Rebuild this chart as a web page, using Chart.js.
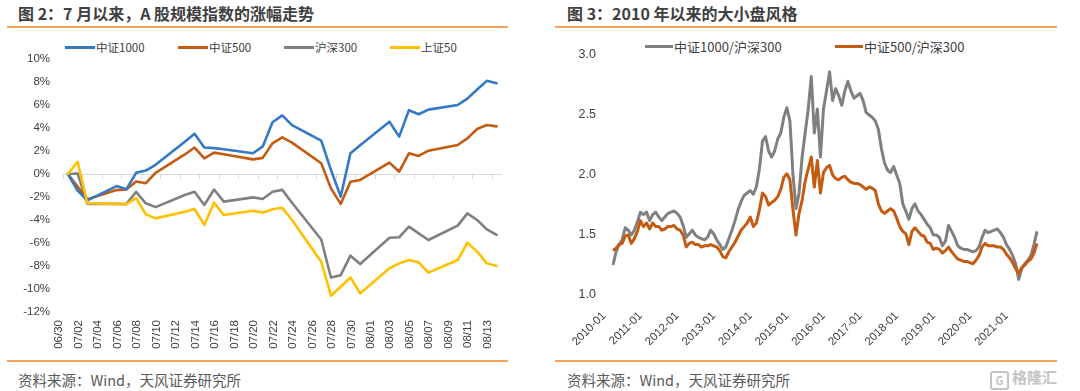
<!DOCTYPE html>
<html>
<head>
<meta charset="utf-8">
<script src="https://cdn.jsdelivr.net/npm/chart.js@4.4.0/dist/chart.umd.min.js"></script>
<style>
  body { margin: 0; background: #fff; }
  #page { position: relative; width: 1080px; height: 391px; overflow: hidden;
          font-family: "Noto Sans CJK SC", "Noto Sans", sans-serif; color: #404040; }
  .title { position: absolute; top: 5px; font-size: 16px; line-height: 16px; font-weight: bold; white-space: nowrap; }
  .rule { position: absolute; height: 1.5px; background: #F3A25A; }
  .source { position: absolute; top: 372px; font-size: 14.5px; line-height: 15px; color: #595959; white-space: nowrap; }
  .item { position: absolute; display: flex; align-items: center; white-space: nowrap; }
  .swatch { display: inline-block; width: 30px; height: 3px; margin-right: 1px; }
  canvas { position: absolute; }
  .mark { position: absolute; left: 990px; top: 367px; color: #c4c4c4; font-size: 15px; line-height: 20px; font-weight: bold; white-space: nowrap; }
  .mark span { display: inline-block; width: 15px; height: 15px; border: 2px solid #c4c4c4; border-radius: 3px;
               font-size: 11px; line-height: 15px; text-align: center; margin-right: 3px; vertical-align: -2px; }
</style>
</head>
<body>
<div id="page">
  <div class="title" style="left:18px">图 2：7 月以来，A 股规模指数的涨幅走势</div>
  <div class="rule" style="left:7px;width:501px;top:26px"></div>
  <div class="item" style="left:65px;top:41px;font-size:11.5px;line-height:12px"><i class="swatch" style="background:#3478C6"></i>中证1000</div>
  <div class="item" style="left:178px;top:41px;font-size:11.5px;line-height:12px"><i class="swatch" style="background:#C55A11"></i>中证500</div>
  <div class="item" style="left:284px;top:41px;font-size:11.5px;line-height:12px"><i class="swatch" style="background:#808080"></i>沪深300</div>
  <div class="item" style="left:390px;top:41px;font-size:11.5px;line-height:12px"><i class="swatch" style="background:#FFC000"></i>上证50</div>
  <canvas id="left" width="540" height="330" style="left:0;top:30px"></canvas>
  <div class="rule" style="left:7px;width:501px;top:360px"></div>
  <div class="source" style="left:18px">资料来源：Wind，天风证券研究所</div>

  <div class="title" style="left:567px">图 3：2010 年以来的大小盘风格</div>
  <div class="rule" style="left:555px;width:502px;top:26px"></div>
  <div class="item" style="left:645px;top:40px;font-size:13px;line-height:13px"><i class="swatch" style="background:#808080;width:28px"></i>中证1000/沪深300</div>
  <div class="item" style="left:835px;top:40px;font-size:13px;line-height:13px"><i class="swatch" style="background:#C55A11;width:28px"></i>中证500/沪深300</div>
  <canvas id="right" width="540" height="330" style="left:540px;top:30px"></canvas>
  <div class="rule" style="left:555px;width:502px;top:360px"></div>
  <div class="source" style="left:567px">资料来源：Wind，天风证券研究所</div>
  <div class="mark"><span>G</span>格隆汇</div>
</div>

<script>
// ---- 图2: 7月以来规模指数涨幅 (%) ----
const dates = ['06/30', '07/01', '07/02', '07/05', '07/06', '07/07', '07/08', '07/09',
  '07/12', '07/13', '07/14', '07/15', '07/16', '07/19', '07/20', '07/21', '07/22', '07/23',
  '07/26', '07/27', '07/28', '07/29', '07/30', '08/02', '08/03', '08/04', '08/05', '08/06',
  '08/09', '08/10', '08/11', '08/12', '08/13'];
const xTickLabels = ['06/30', '07/02', '07/04', '07/06', '07/08', '07/10', '07/12', '07/14',
  '07/16', '07/18', '07/20', '07/22', '07/24', '07/26', '07/28', '07/30', '08/01', '08/03',
  '08/05', '08/07', '08/09', '08/11', '08/13'];
const zz1000 = [0, -1.45, -2.3, -1.05, -1.33, 0.1, 0.3, 0.8, 2.8, 3.5, 2.3, 2.25, 2.15,
  1.8, 2.4, 4.5, 5.1, 4.25, 2.9, 0.35, -1.97, 1.8, 2.5, 4.55, 3.25, 5.55, 5.2, 5.6,
  6.0, 6.55, 7.35, 8.1, 7.9];
const zz500 = [0, -1.1, -2.2, -1.4, -1.35, -0.65, -0.8, 0.1, 1.7, 2.3, 1.36, 1.86, 1.72,
  1.27, 1.4, 2.67, 3.19, 2.73, 0.93, -1.25, -2.6, -0.67, -0.52, 0.99, 0.2, 1.8, 1.57, 2.03,
  2.52, 3.1, 3.91, 4.26, 4.14];
const hs300 = [0, 0.05, -2.6, -2.6, -2.62, -1.55, -2.55, -2.88, -1.83, -1.54, -2.7, -1.35, -2.4,
  -2.03, -2.17, -1.54, -1.38, -2.5, -5.7, -9.0, -8.8, -7.1, -7.83, -5.54, -5.5, -4.58, -5.16, -5.74,
  -4.49, -3.42, -4.0, -4.81, -5.3];
const sz50 = [0, 1.07, -2.55, -2.6, -2.62, -2.1, -3.5, -3.86, -3.28, -3.04, -4.43, -2.49, -3.57,
  -3.19, -3.36, -3.07, -2.93, -4.0, -7.62, -10.58, -9.8, -8.99, -10.38, -8.2, -7.77, -7.48, -7.68, -8.58,
  -7.48, -5.97, -6.75, -7.77, -8.0];

// ---- 图3: 2010年以来大小盘风格 (月度) ----
const yearLabels = ['2010-01', '2011-01', '2012-01', '2013-01', '2014-01', '2015-01',
  '2016-01', '2017-01', '2018-01', '2019-01', '2020-01', '2021-01'];
const ratio1000 = [
  1.25, 1.36, 1.42, 1.46, 1.56, 1.54, 1.50, 1.54, 1.61, 1.69, 1.67, 1.69,
  1.62, 1.67, 1.69, 1.65, 1.62, 1.65, 1.68, 1.69, 1.70, 1.68, 1.65, 1.58,
  1.48, 1.51, 1.54, 1.50, 1.48, 1.47, 1.46, 1.48, 1.54, 1.51, 1.46, 1.42,
  1.38, 1.40, 1.47, 1.54, 1.62, 1.71, 1.78, 1.83, 1.85, 1.87, 1.84, 1.90,
  2.05, 2.28, 2.32, 2.20, 2.15, 2.20, 2.30, 2.35, 2.48, 2.56, 2.45, 2.00,
  1.72, 1.85, 2.15, 2.35, 2.55, 2.82, 2.35, 2.55, 2.15, 2.55, 2.70, 2.86,
  2.62, 2.72, 2.66, 2.58, 2.70, 2.78, 2.70, 2.64, 2.66, 2.68, 2.62, 2.52,
  2.50, 2.48, 2.45, 2.38, 2.22, 2.10, 2.04, 2.02, 2.07, 2.00, 1.93, 1.76,
  1.70, 1.63, 1.72, 1.76, 1.70, 1.67, 1.63, 1.59, 1.56, 1.50, 1.50, 1.48,
  1.41, 1.45, 1.58, 1.53, 1.48, 1.41, 1.39, 1.38, 1.38, 1.37, 1.36, 1.37,
  1.40, 1.48, 1.54, 1.52, 1.53, 1.54, 1.55, 1.52, 1.48, 1.42, 1.38, 1.33,
  1.26, 1.13, 1.22, 1.26, 1.29, 1.33, 1.42, 1.53];
const ratio500 = [
  1.37, 1.39, 1.42, 1.43, 1.49, 1.50, 1.43, 1.47, 1.53, 1.62, 1.57, 1.60,
  1.55, 1.60, 1.57, 1.57, 1.54, 1.55, 1.57, 1.57, 1.58, 1.55, 1.54, 1.50,
  1.40, 1.43, 1.44, 1.42, 1.42, 1.40, 1.41, 1.41, 1.42, 1.41, 1.40, 1.37,
  1.32, 1.31, 1.36, 1.40, 1.44, 1.49, 1.54, 1.57, 1.60, 1.65, 1.57, 1.60,
  1.71, 1.85, 1.82, 1.75, 1.77, 1.79, 1.82, 1.88, 1.98, 2.01, 1.96, 1.71,
  1.50, 1.68, 1.79, 1.95, 2.05, 2.15, 1.90, 2.12, 1.85, 2.02, 2.06, 2.08,
  2.00, 1.97, 1.96, 1.98, 1.99, 1.96, 1.94, 1.93, 1.93, 1.92, 1.90, 1.88,
  1.90, 1.89, 1.87, 1.76, 1.70, 1.68, 1.70, 1.72, 1.70, 1.64, 1.57, 1.53,
  1.51, 1.42, 1.53, 1.56, 1.53, 1.50, 1.49, 1.44, 1.43, 1.38, 1.39, 1.38,
  1.35, 1.37, 1.40, 1.36, 1.33, 1.30, 1.29, 1.28, 1.28, 1.27, 1.26, 1.29,
  1.33, 1.40, 1.43, 1.41, 1.41, 1.41, 1.40, 1.40, 1.38, 1.34, 1.31, 1.27,
  1.22, 1.18, 1.23, 1.25, 1.28, 1.30, 1.35, 1.43];

const axisFont = { family: "'Liberation Sans', Arial, sans-serif", size: 11.5 };
const axisColor = '#404040';

// calendar day offset from 06/30
function dayIndex(s) {
  const [m, d] = s.split('/').map(Number);
  return m === 6 ? d - 30 : m === 7 ? d : 31 + d;
}

function series(values) {
  return dates.map((d, i) => ({ x: dayIndex(d), y: values[i] }));
}

function lineSet(label, values, color, order) {
  return {
    label: label,
    data: series(values),
    borderColor: color,
    borderWidth: 2.6,
    pointRadius: 0,
    tension: 0,
    borderJoinStyle: 'round',
    borderCapStyle: 'round',
    order: order,
  };
}

// small tick marks hanging under the 0% line
const zeroTicks = {
  id: 'zeroTicks',
  beforeDatasetsDraw(chart) {
    const { ctx, scales: { x, y } } = chart;
    const y0 = y.getPixelForValue(0);
    ctx.save();
    ctx.strokeStyle = '#d9d9d9';
    ctx.lineWidth = 1;
    x.ticks.forEach(t => {
      const px = Math.round(x.getPixelForValue(t.value)) + 0.5;
      ctx.beginPath();
      ctx.moveTo(px, y0);
      ctx.lineTo(px, y0 + 5);
      ctx.stroke();
    });
    ctx.restore();
  }
};

new Chart(document.getElementById('left'), {
  type: 'line',
  data: {
    datasets: [
      lineSet('中证1000', zz1000, '#3478C6', 1),
      lineSet('中证500', zz500, '#C55A11', 2),
      lineSet('沪深300', hs300, '#808080', 3),
      lineSet('上证50', sz50, '#FFC000', 0),
    ],
  },
  options: {
    responsive: false,
    animation: false,
    devicePixelRatio: 1,
    layout: { padding: { top: 29, right: 38.5, left: 0, bottom: 0 } },
    plugins: { legend: { display: false }, tooltip: { enabled: false } },
    scales: {
      x: {
        type: 'linear',
        min: -0.5,
        max: 44.5,
        afterBuildTicks: (scale) => {
          scale.ticks = xTickLabels.map(l => ({ value: dayIndex(l) - 0.5 }));
        },
        afterFit: (scale) => { scale.height = 48; },
        grid: { display: false, drawTicks: false },
        border: { display: false },
        ticks: {
          autoSkip: false,
          minRotation: 90,
          maxRotation: 90,
          padding: 8,
          labelOffset: -4,
          color: axisColor,
          font: axisFont,
          callback: (v, i) => xTickLabels[i],
        },
      },
      y: {
        min: -12,
        max: 10,
        afterFit: (scale) => { scale.width = 63; },
        grid: {
          drawTicks: false,
          color: (c) => (c.tick && c.tick.value === 0 ? '#d9d9d9' : 'rgba(0,0,0,0)'),
        },
        border: { display: false },
        ticks: {
          stepSize: 2,
          padding: 13,
          color: axisColor,
          font: axisFont,
          callback: (v) => v + '%',
        },
      },
    },
  },
  plugins: [zeroTicks],
});

// monthly categories 2010-01 .. 2021-08
const months = [];
for (let i = 0; i < ratio1000.length; i++) {
  const yr = 2010 + Math.floor(i / 12);
  const mo = (i % 12) + 1;
  months.push(yr + '-' + (mo < 10 ? '0' + mo : mo));
}

new Chart(document.getElementById('right'), {
  type: 'line',
  data: {
    labels: months,
    datasets: [
      {
        label: '中证1000/沪深300',
        data: ratio1000,
        borderColor: '#808080',
        borderWidth: 3,
        pointRadius: 0,
        tension: 0,
        borderJoinStyle: 'round',
        order: 2,
      },
      {
        label: '中证500/沪深300',
        data: ratio500,
        borderColor: '#C55A11',
        borderWidth: 3,
        pointRadius: 0,
        tension: 0,
        borderJoinStyle: 'round',
        order: 1,
      },
    ],
  },
  options: {
    responsive: false,
    animation: false,
    devicePixelRatio: 1,
    layout: { padding: { top: 25, right: 43, left: 0, bottom: 0 } },
    plugins: { legend: { display: false }, tooltip: { enabled: false } },
    scales: {
      x: {
        afterFit: (scale) => { scale.height = 65; },
        grid: { display: false, drawTicks: false },
        border: { display: false },
        ticks: {
          autoSkip: false,
          minRotation: 45,
          maxRotation: 45,
          padding: 14,
          labelOffset: -9,
          color: axisColor,
          font: axisFont,
          callback: (v, i) => (yearLabels.includes(months[i]) ? months[i] : null),
        },
      },
      y: {
        min: 1,
        max: 3,
        afterFit: (scale) => { scale.width = 73; },
        grid: { display: false, drawTicks: false },
        border: { display: false },
        ticks: {
          stepSize: 0.5,
          padding: 17,
          color: axisColor,
          font: { family: "'Liberation Sans', Arial, sans-serif", size: 12.5 },
          callback: (v) => v.toFixed(1),
        },
      },
    },
  },
});
</script>
</body>
</html>
